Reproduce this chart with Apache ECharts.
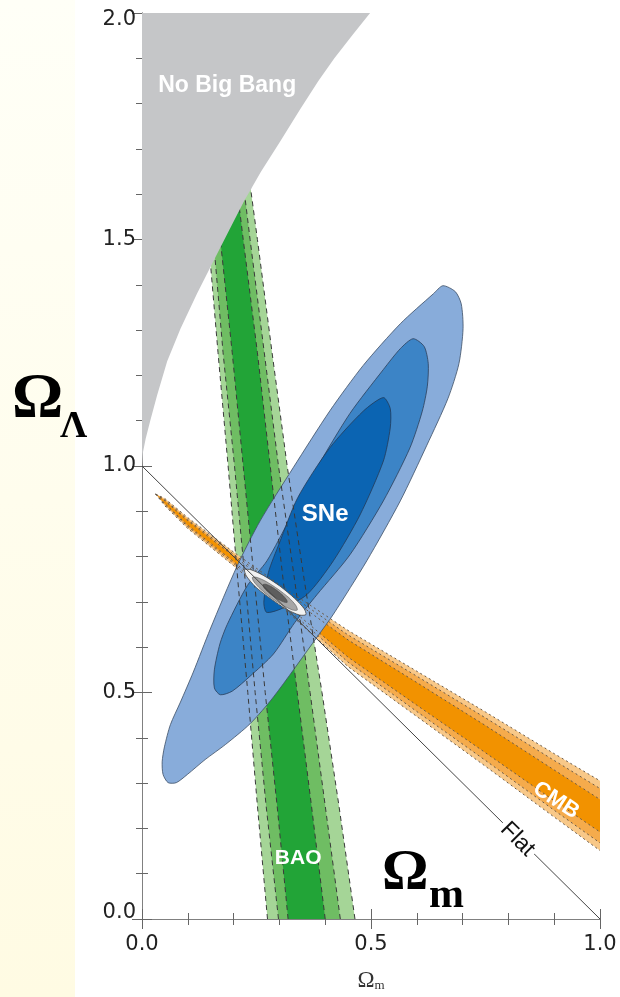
<!DOCTYPE html>
<html><head><meta charset="utf-8">
<script src="https://cdn.jsdelivr.net/npm/echarts@6/dist/echarts.min.js"></script>
<style>html,body{margin:0;padding:0;background:#fff}#c{width:620px;height:997px}</style>
</head><body><div id="c"></div>
<script>
// ---- axis ticks ----
const xTickValues = [0.0, 0.5, 1.0];
const yTickValues = [0.0, 0.5, 1.0, 1.5, 2.0];

// ---- "No Big Bang" boundary (Omega_m, Omega_Lambda) ----
const noBigBangEdge = [[0,1.0],[0.002,1.03],[0.008,1.06],[0.018,1.1],[0.033,1.156],[0.055,1.231],[0.084,1.303],[0.12,1.38],[0.16,1.46],[0.19,1.52],[0.223,1.585],[0.26,1.65],[0.302,1.717],[0.345,1.787],[0.385,1.85],[0.42,1.9],[0.46,1.952],[0.498,2.0],[0,2.0]];

// ---- BAO band: Omega_Lambda levels with left/right Omega_m edges ----
const baoY      = [0.0, 0.25, 0.5, 0.75, 1.0, 1.25, 1.5, 1.75];
const baoOuterL = [0.274,0.252,0.231,0.209,0.188,0.166,0.145,0.123];
const baoOuterR = [0.465,0.430,0.393,0.354,0.317,0.284,0.252,0.219];
const baoMidL   = [0.298,0.271,0.247,0.225,0.202,0.177,0.156,0.134];
const baoMidR   = [0.433,0.400,0.367,0.333,0.298,0.267,0.236,0.206];
const baoInL    = [0.319,0.295,0.269,0.245,0.221,0.197,0.171,0.147];
const baoInR    = [0.400,0.370,0.339,0.308,0.280,0.252,0.221,0.191];

// ---- CMB band: Omega_m positions, centre Omega_Lambda, half widths ----
const cmbX      = [0.03, 0.05, 0.10, 0.20, 0.30, 0.45, 0.60, 0.75, 0.90, 1.0];
const cmbCenter = [0.938,0.92,0.874,0.795,0.716,0.597,0.497,0.397,0.295,0.228];
const cmbOuterH = [0.0,0.008,0.012,0.015,0.022,0.040,0.050,0.060,0.070,0.077];
const cmbMidH   = [0.0,0.005,0.008,0.010,0.016,0.030,0.039,0.047,0.055,0.060];
const cmbInH    = [0.0,0.003,0.005,0.006,0.010,0.019,0.025,0.030,0.034,0.036];

// ---- SNe contours ----
const sneOuter = [[0.657,1.398],[0.684,1.385],[0.697,1.358],[0.701,1.303],[0.692,1.226],[0.668,1.149],[0.622,1.046],[0.564,0.923],[0.491,0.791],[0.418,0.673],[0.382,0.622],[0.287,0.490],[0.236,0.431],[0.182,0.385],[0.138,0.352],[0.099,0.319],[0.075,0.301],[0.057,0.301],[0.046,0.319],[0.044,0.347],[0.049,0.380],[0.062,0.429],[0.084,0.479],[0.112,0.545],[0.149,0.640],[0.208,0.780],[0.258,0.879],[0.330,0.996],[0.411,1.123],[0.483,1.222],[0.564,1.314],[0.636,1.380]];
const sneMid = [[0.592,1.281],[0.616,1.264],[0.625,1.226],[0.623,1.176],[0.612,1.121],[0.585,1.040],[0.527,0.923],[0.454,0.804],[0.382,0.716],[0.334,0.655],[0.287,0.585],[0.236,0.536],[0.197,0.503],[0.171,0.495],[0.158,0.510],[0.158,0.550],[0.170,0.607],[0.186,0.650],[0.230,0.736],[0.273,0.791],[0.324,0.886],[0.382,0.996],[0.454,1.116],[0.527,1.213],[0.564,1.259]];
const sneInner = [[0.527,1.151],[0.542,1.127],[0.542,1.084],[0.527,1.011],[0.476,0.892],[0.418,0.791],[0.360,0.716],[0.302,0.684],[0.272,0.677],[0.266,0.699],[0.276,0.765],[0.300,0.830],[0.340,0.930],[0.410,1.040],[0.483,1.121]];

// ---- combined contours ----
const combOuter = [[0.358,0.672],[0.344,0.671],[0.315,0.684],[0.281,0.707],[0.248,0.733],[0.228,0.757],[0.224,0.771],[0.238,0.771],[0.266,0.758],[0.301,0.735],[0.333,0.708],[0.354,0.685]];
const combMid   = [[0.339,0.682],[0.329,0.682],[0.308,0.692],[0.282,0.709],[0.259,0.728],[0.244,0.745],[0.241,0.754],[0.251,0.754],[0.271,0.745],[0.297,0.728],[0.321,0.709],[0.336,0.692]];
const combInner = [[0.317,0.699],[0.312,0.699],[0.300,0.704],[0.286,0.713],[0.274,0.723],[0.266,0.732],[0.264,0.738],[0.270,0.739],[0.282,0.734],[0.295,0.725],[0.308,0.714],[0.316,0.704]];

// ---- flat universe line ----
const flatLine = [[0,1],[1,0]];

// ---- in-plot labels ----
const labelText = ['No Big Bang','SNe','BAO','CMB','Flat'];
const labelPos  = [[0.186,1.840],[0.400,0.893],[0.341,0.135],[0.904,0.262],[0.820,0.176]];
const labelRot  = [0, 0, 0, -33, -45];
const labelSize = [23, 24, 21, 22, 23];

// ---------- helpers ----------
function bandPolygon(ys, L, R){
  const p = [];
  for(let i=0;i<ys.length;i++) p.push([L[i], ys[i]]);
  for(let i=ys.length-1;i>=0;i--) p.push([R[i], ys[i]]);
  return p;
}
function cmbPolygon(H){
  const p = [];
  for(let i=0;i<cmbX.length;i++) p.push([cmbX[i], cmbCenter[i]+H[i]]);
  for(let i=cmbX.length-1;i>=0;i--) p.push([cmbX[i], cmbCenter[i]-H[i]]);
  return p;
}
function cmbEdge(H, sign){
  return cmbX.map((x,i)=>[x, cmbCenter[i]+sign*H[i]]);
}
function polySeries(points, style, z, smooth){
  return {type:'custom', coordinateSystem:'cartesian2d', z:z, clip:true, silent:true,
    data: points,
    renderItem:(params, api)=> params.dataIndex===0 ? {type:'polygon', shape:{points: points.map(p=>api.coord(p)), smooth:smooth||0}, style: style} : null};
}
function dashSeries(points, dash, color, z){
  return {type:'custom', coordinateSystem:'cartesian2d', z:z, clip:true, silent:true,
    data: points,
    renderItem:(params, api)=> params.dataIndex===0 ? {type:'polyline', shape:{points: points.map(p=>api.coord(p))}, style:{stroke:color, lineWidth:1, lineDash:dash, fill:null}} : null};
}

const baoOuter = bandPolygon(baoY, baoOuterL, baoOuterR);
const baoMid = bandPolygon(baoY, baoMidL, baoMidR);
const baoIn = bandPolygon(baoY, baoInL, baoInR);

const series = [];
// BAO fills
series.push(polySeries(baoOuter, {fill:'#a5d597'}, 2));
series.push(polySeries(baoMid, {fill:'#6fbd63'}, 2));
series.push(polySeries(baoIn, {fill:'#22a437'}, 2));
// CMB fills
series.push(polySeries(cmbPolygon(cmbOuterH), {fill:'#f8c888'}, 3));
series.push(polySeries(cmbPolygon(cmbMidH), {fill:'#f5ab4c'}, 3));
series.push(polySeries(cmbPolygon(cmbInH), {fill:'#f29200'}, 3));
// SNe fills
series.push(polySeries(sneOuter, {fill:'#88acda', stroke:'#3d4f66', lineWidth:0.8}, 4, 0.25));
series.push(polySeries(sneMid, {fill:'#3c84c6', stroke:'#2b3f5a', lineWidth:0.8}, 4, 0.25));
series.push(polySeries(sneInner, {fill:'#0b64b2', stroke:'#223a58', lineWidth:0.8}, 4, 0.25));
// BAO dashed edges
[baoOuterL, baoOuterR, baoMidL, baoMidR, baoInL, baoInR].forEach(arr=>{
  series.push(dashSeries(baoY.map((y,i)=>[arr[i], y]), [5,4], '#3a3a3a', 5));
});
// CMB dashed edges
[cmbOuterH, cmbMidH, cmbInH].forEach(H=>{
  series.push(dashSeries(cmbEdge(H, 1), [2,3], '#6a5a48', 5));
  series.push(dashSeries(cmbEdge(H, -1), [2,3], '#6a5a48', 5));
});
// combined
series.push(polySeries(combOuter, {fill:'#f2f2f2', stroke:'#444', lineWidth:0.8}, 6, 0.25));
series.push(polySeries(combMid, {fill:'#a6a6a6', stroke:'#555', lineWidth:0.6}, 6, 0.25));
series.push(polySeries(combInner, {fill:'#5e5e5e', stroke:'#444', lineWidth:0.6}, 6, 0.25));
// No Big Bang region
series.push(polySeries(noBigBangEdge, {fill:'#c5c6c8'}, 7));
// Flat line
series.push({type:'line', data: flatLine, symbol:'none', z:8, silent:true, lineStyle:{color:'#444', width:1}});
// labels
series.push({type:'custom', coordinateSystem:'cartesian2d', z:9, silent:true, clip:false,
  data: labelPos,
  renderItem:(params, api)=>{
    const i = params.dataIndex;
    const c = api.coord(labelPos[i]);
    const isFlat = labelText[i]==='Flat';
    return {type:'text', x:c[0], y:c[1], rotation: labelRot[i]*Math.PI/180,
      style:{text:labelText[i], fill: isFlat ? '#111' : '#ffffff',
        font: (isFlat ? '' : 'bold ') + labelSize[i] + 'px "Liberation Sans", Arial, sans-serif',
        align:'center', verticalAlign:'middle',
        backgroundColor: isFlat ? '#ffffff' : null, padding: isFlat ? [0,3] : 0}};
  }});

const axisLineStyle = {lineStyle:{color:'#808080', width:1}};
const tickStyle = {inside:true, length:10, lineStyle:{color:'#666'}};
const minorStyle = {show:true, splitNumber:5, length:6, lineStyle:{color:'#666'}};
const fontFam = '"DejaVu Sans", sans-serif';
const labelFont = {fontFamily:fontFam, fontSize:21, color:'#222'};

const option = {
  backgroundColor:'#ffffff',
  animation:false,
  grid:{left:142, right:20, top:13, bottom:74, containLabel:false},
  xAxis:[
    {type:'value', min:0, max:1, interval:0.5, position:'bottom',
     axisLine:axisLineStyle, axisTick:tickStyle, minorTick:minorStyle, splitLine:{show:false},
     axisLabel:Object.assign({margin:15, formatter:v=>v.toFixed(1), customValues:xTickValues}, labelFont),
     name:'{a|Ω}{b|m}', nameLocation:'middle', nameGap:50,
     nameTextStyle:{rich:{a:{fontFamily:'"Liberation Serif", serif', fontSize:23, color:'#333'}, b:{fontFamily:'"Liberation Serif", serif', fontSize:13, color:'#333', verticalAlign:'bottom', padding:[10,0,0,0]}}}},
    {type:'value', min:0, max:1, interval:0.5, position:'top',
     axisLine:axisLineStyle, axisTick:tickStyle, minorTick:minorStyle, splitLine:{show:false}, axisLabel:{show:false}}
  ],
  yAxis:[
    {type:'value', min:0, max:2, interval:0.5, position:'left',
     axisLine:axisLineStyle, axisTick:tickStyle, minorTick:minorStyle, splitLine:{show:false},
     axisLabel:Object.assign({margin:6, customValues:yTickValues,
       formatter:v=> v===2 ? '{t|'+v.toFixed(1)+'}' : (v===0 ? '{b|'+v.toFixed(1)+'}' : v.toFixed(1)),
       rich:{t:{fontFamily:fontFam, fontSize:21, color:'#222', padding:[13,0,0,0]},
             b:{fontFamily:fontFam, fontSize:21, color:'#222', padding:[0,0,13,0]}}}, labelFont)},
    {type:'value', min:0, max:2, interval:0.5, position:'right',
     axisLine:axisLineStyle, axisTick:tickStyle, minorTick:minorStyle, splitLine:{show:false}, axisLabel:{show:false}}
  ],
  graphic:[
    {type:'rect', z:-10, shape:{x:0,y:0,width:75,height:997},
     style:{fill:{type:'linear', x:0, y:0, x2:0.3, y2:1, colorStops:[{offset:0,color:'#fffff7'},{offset:1,color:'#fffbe3'}]}}},
    {type:'text', z:50, x:12, y:400, style:{text:'Ω', font:'bold 64px "Liberation Serif", serif', fill:'#000', verticalAlign:'middle'}},
    {type:'text', z:50, x:60, y:427, style:{text:'Λ', font:'bold 38px "Liberation Serif", serif', fill:'#000', verticalAlign:'middle'}},
    {type:'text', z:50, x:382, y:874, style:{text:'Ω', font:'bold 58px "Liberation Serif", serif', fill:'#000', verticalAlign:'middle'}},
    {type:'text', z:50, x:429, y:896, style:{text:'m', font:'bold 42px "Liberation Serif", serif', fill:'#000', verticalAlign:'middle'}}
  ],
  series: series
};
const chart = echarts.init(document.getElementById('c'), null, {renderer:'canvas'});
chart.setOption(option);
</script></body></html>
